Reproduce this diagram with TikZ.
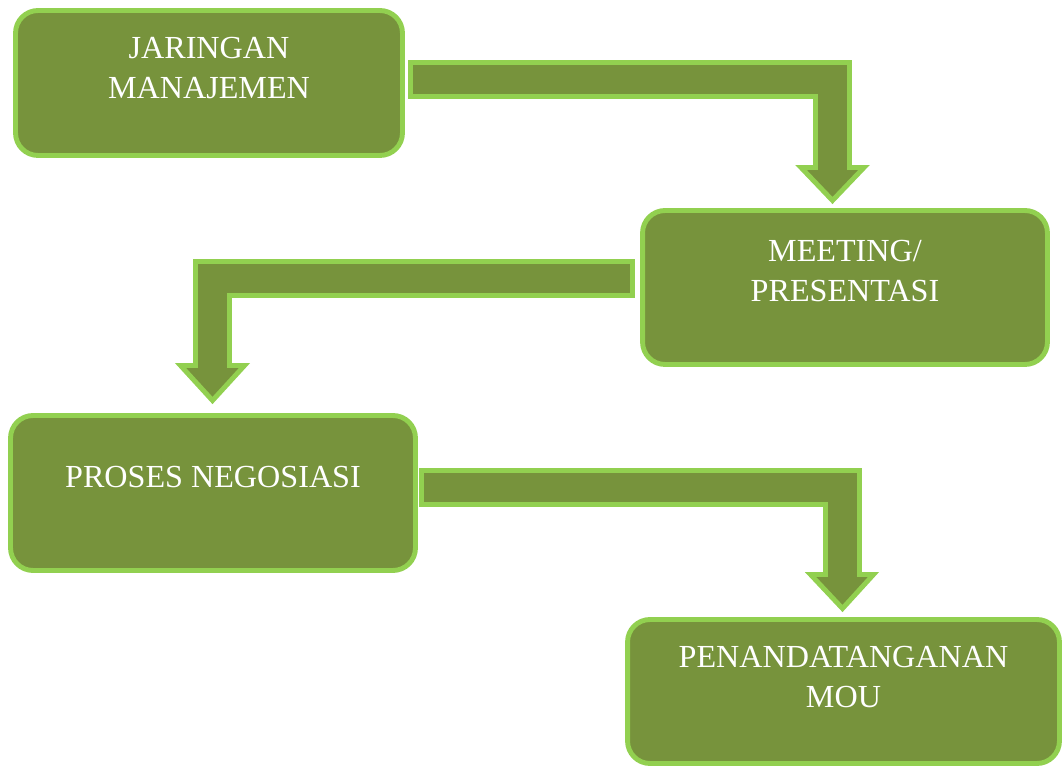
\documentclass[tikz,border=0pt]{standalone}
\usepackage{fontspec}
\setmainfont{Liberation Serif}
\usepackage{tikz}
\usetikzlibrary{positioning}
\definecolor{olivefill}{RGB}{119,147,60}
\definecolor{limeline}{RGB}{146,208,80}
\tikzset{
	flowbox/.style={draw=limeline, fill=olivefill, line width=2.8pt, rounded corners=0.45cm, inner sep=0pt},
	flowtext/.style={text=white, align=center, inner sep=0pt, font=\fontsize{18.3}{23.2}\selectfont},
	bentarrow/.style={draw=limeline, fill=olivefill, line width=2.8pt, line join=miter}
}
\begin{document}
\begin{tikzpicture}[x=0.02cm, y=-0.02cm]
	\useasboundingbox (0,0) rectangle (1062,766);
	% boxes
	\node[flowbox, minimum width=7.74cm, minimum height=2.9cm] (jaringan) at (209,83) {};
	\node[flowbox, minimum width=8.1cm, minimum height=3.08cm] (meeting) at (845,287.5) {};
	\node[flowbox, minimum width=8.1cm, minimum height=3.1cm] (proses) at (213,493) {};
	\node[flowbox, minimum width=8.64cm, minimum height=2.88cm] (mou) at (843.5,691.5) {};
	\node[flowtext, below=0.57cm of jaringan.north] (jaringantext) {JARINGAN\\MANAJEMEN};
	\node[flowtext, below=0.63cm of meeting.north] (meetingtext) {MEETING/\\PRESENTASI};
	\node[flowtext, below=1.05cm of proses.north] (prosestext) {PROSES NEGOSIASI};
	\node[flowtext, below=0.57cm of mou.north] (moutext) {PENANDATANGANAN\\MOU};
	% bent arrows
	\draw[bentarrow] (410.5,62.5) -- (849.5,62.5) -- (849.5,167.5) -- (864,167.5)
	-- (832.5,200.5) -- (801,167.5) -- (815.5,167.5) -- (815.5,96.5) -- (410.5,96.5) -- cycle;
	\draw[bentarrow] (632.5,261.5) -- (195.5,261.5) -- (195.5,365.5) -- (180.5,365.5)
	-- (212.5,400.5) -- (244.5,365.5) -- (229.5,365.5) -- (229.5,295.5) -- (632.5,295.5) -- cycle;
	\draw[bentarrow] (421.5,470.5) -- (859.5,470.5) -- (859.5,574.5) -- (873.5,574.5)
	-- (842.5,608.5) -- (810.5,574.5) -- (825.5,574.5) -- (825.5,504.5) -- (421.5,504.5) -- cycle;
\end{tikzpicture}
\end{document}
